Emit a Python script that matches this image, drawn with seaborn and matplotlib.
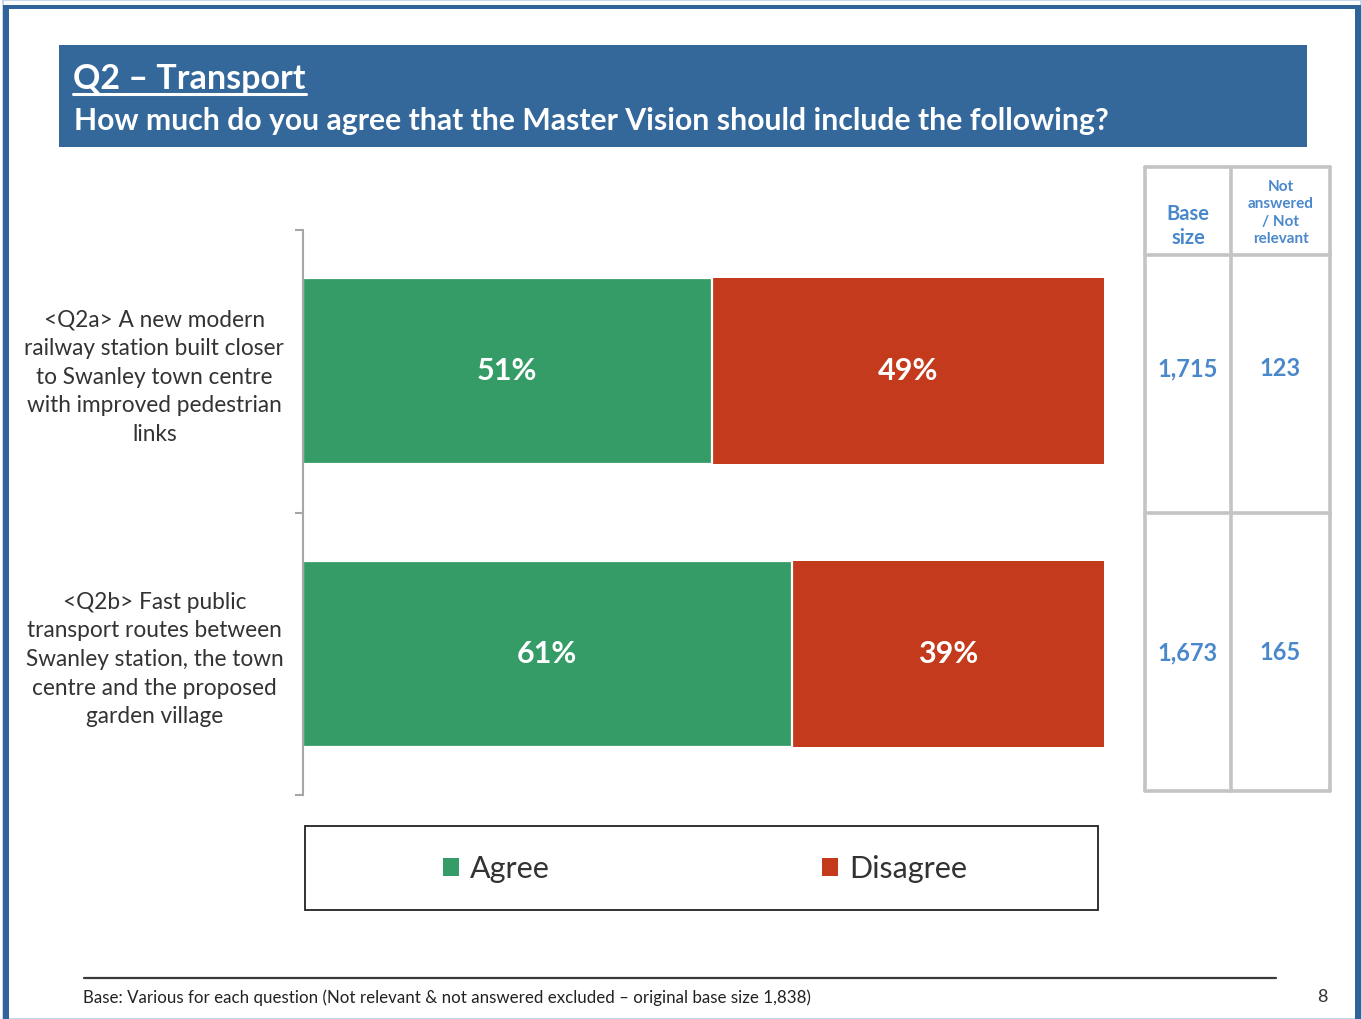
import matplotlib
matplotlib.use("Agg")
import matplotlib.pyplot as plt
from matplotlib.patches import Rectangle
from matplotlib.lines import Line2D
import seaborn as sns
import pandas as pd

# ---- data ----
questions = [
    "<Q2a> A new modern\nrailway station built closer\nto Swanley town centre\nwith improved pedestrian\nlinks",
    "<Q2b> Fast public\ntransport routes between\nSwanley station, the town\ncentre and the proposed\ngarden village",
]
agree = [51, 61]
disagree = [49, 39]
base_size = ["1,715", "1,673"]
not_answered = ["123", "165"]
series_names = ["Agree", "Disagree"]

title = "Q2 – Transport"
subtitle = "How much do you agree that the Master Vision should include the following?"
footnote = "Base: Various for each question (Not relevant & not answered excluded – original base size 1,838)"
page_no = "8"

# ---- style ----
GREEN = "#359C68"
RED = "#C43A1C"
BLUE_BAND = "#34679A"
TABLE_BLUE = "#4A88CC"
TEXT = "#333333"
GRID_GRAY = "#C4C4C4"

sns.set_theme(style="white")
plt.rcParams["font.family"] = ["Lato", "DejaVu Sans"]

W, H = 1362, 1019
fig = plt.figure(figsize=(W / 100, H / 100), dpi=100)
fig.patch.set_facecolor("white")


def fx(px):
    return px / W


def fy(py):
    return 1 - py / H


# slide frame
fig.patches.append(Rectangle((fx(3), fy(1019)), fx(1358), 1019 / H, transform=fig.transFigure,
                             facecolor="none", edgecolor="#BDD0E6", lw=1.2, zorder=0))
for (x0, y0, w, h) in [(3, 5, 1358, 4), (3, 5, 6, 1014), (1355, 5, 6, 1014)]:
    fig.patches.append(Rectangle((fx(x0), fy(y0 + h)), fx(w), h / H, transform=fig.transFigure,
                                 facecolor="#2F6399", edgecolor="none", zorder=1))

# title band
fig.patches.append(Rectangle((fx(59), fy(147)), fx(1248), 102 / H, transform=fig.transFigure,
                             facecolor=BLUE_BAND, edgecolor="none", zorder=1))
t = fig.text(fx(73), fy(79), title, color="white", fontsize=24.5, fontweight="bold",
             ha="left", va="center", zorder=3)
fig.text(fx(74), fy(121), subtitle, color="white", fontsize=21.7, fontweight="bold",
         ha="left", va="center", zorder=3)
fig.canvas.draw()
bb = t.get_window_extent()
fig.add_artist(Line2D([bb.x0 / W, bb.x1 / W], [fy(94), fy(94)], transform=fig.transFigure,
                      color="white", lw=2.2, zorder=3))

# ---- stacked bars ----
ax = fig.add_axes([fx(303), fy(795), fx(1104 - 303), (795 - 230) / H])
df = pd.DataFrame({"q": questions, "agree": agree,
                   "total": [a + d for a, d in zip(agree, disagree)]})
sns.barplot(data=df, y="q", x="total", color=RED, orient="h", width=0.66,
            saturation=1, edgecolor="none", ax=ax)
sns.barplot(data=df, y="q", x="agree", color=GREEN, orient="h", width=0.66,
            saturation=1, edgecolor="white", linewidth=1.6, ax=ax)

for i, (a, d) in enumerate(zip(agree, disagree)):
    ax.text(a / 2, i, f"{a}%", color="white", fontsize=22, fontweight="bold",
            ha="center", va="center")
    ax.text(a + d / 2, i, f"{d}%", color="white", fontsize=22, fontweight="bold",
            ha="center", va="center")

ax.set_xlim(0, 100)
ax.set_ylim(1.5, -0.5)
ax.set_xticks([])
ax.set_xlabel("")
ax.set_ylabel("")
ax.set_yticks([0, 1])
ax.set_yticklabels(questions, ha="center", fontsize=16.3, color=TEXT, linespacing=1.45)
ax.tick_params(axis="y", which="major", length=0, pad=107)
ax.set_yticks([-0.5, 0.5, 1.5], minor=True)
ax.tick_params(axis="y", which="minor", length=6, width=1.5, color="#A6A6A6", left=True)
for s in ["top", "right", "bottom"]:
    ax.spines[s].set_visible(False)
ax.spines["left"].set_color("#A6A6A6")
ax.spines["left"].set_linewidth(1.5)
ax.patch.set_alpha(0)

# ---- side table ----
tx0, tx1, tx2 = 1145, 1231, 1330
rows_y = [167, 255, 513, 791]
lw_tab = 2.6
for x in (tx0, tx1, tx2):
    fig.add_artist(Line2D([fx(x), fx(x)], [fy(rows_y[0]), fy(rows_y[-1])], transform=fig.transFigure,
                          color=GRID_GRAY, lw=lw_tab))
for y in rows_y:
    fig.add_artist(Line2D([fx(tx0), fx(tx2)], [fy(y), fy(y)], transform=fig.transFigure,
                          color=GRID_GRAY, lw=lw_tab))
fig.text(fx((tx0 + tx1) / 2), fy(226), "Base\nsize", color=TABLE_BLUE, fontsize=14.5,
         fontweight="bold", ha="center", va="center", linespacing=1.3)
fig.text(fx((tx1 + tx2) / 2), fy(213), "Not\nanswered\n/ Not\nrelevant", color=TABLE_BLUE,
         fontsize=11, fontweight="bold", ha="center", va="center", linespacing=1.32)
for yc, b, n in zip([369, 653], base_size, not_answered):
    fig.text(fx((tx0 + tx1) / 2), fy(yc), b, color=TABLE_BLUE, fontsize=17,
             fontweight="bold", ha="center", va="center")
    fig.text(fx((tx1 + tx2) / 2), fy(yc), n, color=TABLE_BLUE, fontsize=17,
             fontweight="bold", ha="center", va="center")

# ---- legend box ----
handles = [Rectangle((0, 0), 1, 1, facecolor=GREEN, edgecolor="none"),
           Rectangle((0, 0), 1, 1, facecolor=RED, edgecolor="none")]
fig.patches.append(Rectangle((fx(305), fy(910)), fx(1098 - 305), (910 - 826) / H,
                             transform=fig.transFigure, facecolor="white",
                             edgecolor="#222222", lw=1.3, zorder=1))
leg = fig.legend(handles, series_names, loc="center", bbox_to_anchor=(fx(705), fy(869)),
                 ncol=2, frameon=False, fontsize=22, handlelength=0.52, handleheight=0.52,
                 handletextpad=0.36, columnspacing=8.9, labelcolor=TEXT)

# ---- footer ----
fig.add_artist(Line2D([fx(84), fx(1276)], [fy(978), fy(978)], transform=fig.transFigure,
                      color="#3A3A3A", lw=1.6))
fig.text(fx(83), fy(998), footnote, color="#222222", fontsize=12.15, ha="left", va="center")
fig.text(fx(1328), fy(997), page_no, color="#333333", fontsize=13, ha="right", va="center")

fig.savefig("out.png", dpi=100, facecolor="white")
